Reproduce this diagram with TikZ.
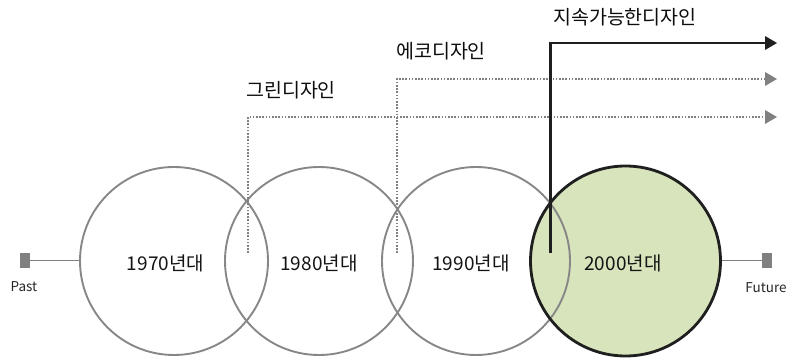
\documentclass[tikz,border=0pt]{standalone}
\usepackage{fontspec}
\setmainfont{Noto Sans CJK KR}
\usetikzlibrary{arrows.meta}
\begin{document}
\begin{tikzpicture}[x=1pt,y=-1pt,
  era/.style={circle, draw=black!47, line width=1.9pt, inner sep=0pt, minimum size=188pt},
  eranow/.style={circle, draw=black!88, line width=2.8pt, inner sep=0pt, minimum size=190pt},
  eralabel/.style={font=\fontsize{19}{22}\selectfont, text=black!92, inner sep=0pt},
  trendlabel/.style={font=\fontsize{19.5}{22}\selectfont, text=black!95, inner sep=0pt},
  endlabel/.style={font=\fontsize{13.5}{15}\selectfont, text=black!85, inner sep=0pt},
  marker/.style={rectangle, fill=black!50, inner sep=0pt, minimum width=10pt, minimum height=15pt},
  dotline/.style={draw=black!50, line width=1.8pt, dash pattern=on 1.6pt off 1.6pt,
     -{Triangle[length=12pt,width=14pt,fill=black!50,line width=0pt]}},
  solidline/.style={draw=black!88, line width=2.4pt,
     -{Triangle[length=12pt,width=14pt,fill=black!88,line width=0pt]}},
  tie/.style={draw=black!50, line width=1pt}
]
\useasboundingbox (0,0) rectangle (790,358);

% green fill of 2000s circle under the others
\fill[fill={rgb,255:red,215;green,228;blue,188}] (625.5,261) circle (95pt);

\node[era] (c1) at (174,261) {};
\node[era] (c2) at (319,261) {};
\node[era] (c3) at (476,261) {};
\node[eranow] (c4) at (625.5,261) {};

\node[eralabel] (l1) at (165.5,263) {1970년대};
\node[eralabel] (l2) at (319,263) {1980년대};
\node[eralabel] (l3) at (471,263) {1990년대};
\node[eralabel] (l4) at (623,263) {2000년대};

% past / future markers
\node[marker] (past) at (25,261) {};
\node[marker] (future) at (767,261) {};
\node[endlabel] (pastl) at (24,287) {Past};
\node[endlabel] (futurel) at (766,288) {Future};
\draw[tie] (past.east) -- (c1.west);
\draw[tie] (c4.east) -- (future.west);

% trend lines
\coordinate (g0) at (248,253);
\coordinate (g1) at (248,117);
\coordinate (g2) at (777,117);
\coordinate (e0) at (397,253);
\coordinate (e1) at (397,79);
\coordinate (e2) at (777,79);
\coordinate (s0) at (550.5,253);
\coordinate (s1) at (550.5,43);
\coordinate (s2) at (777,43);

\draw[dotline] (g0) -- (g1) -- (g2);
\draw[dotline] (e0) -- (e1) -- (e2);
\draw[solidline] (s0) -- (s1) -- (s2);

\node[trendlabel, anchor=west] (tg) at (246,90) {그린디자인};
\node[trendlabel, anchor=west] (te) at (396,51) {에코디자인};
\node[trendlabel, anchor=west] (ts) at (553,17) {지속가능한디자인};
\end{tikzpicture}
\end{document}
